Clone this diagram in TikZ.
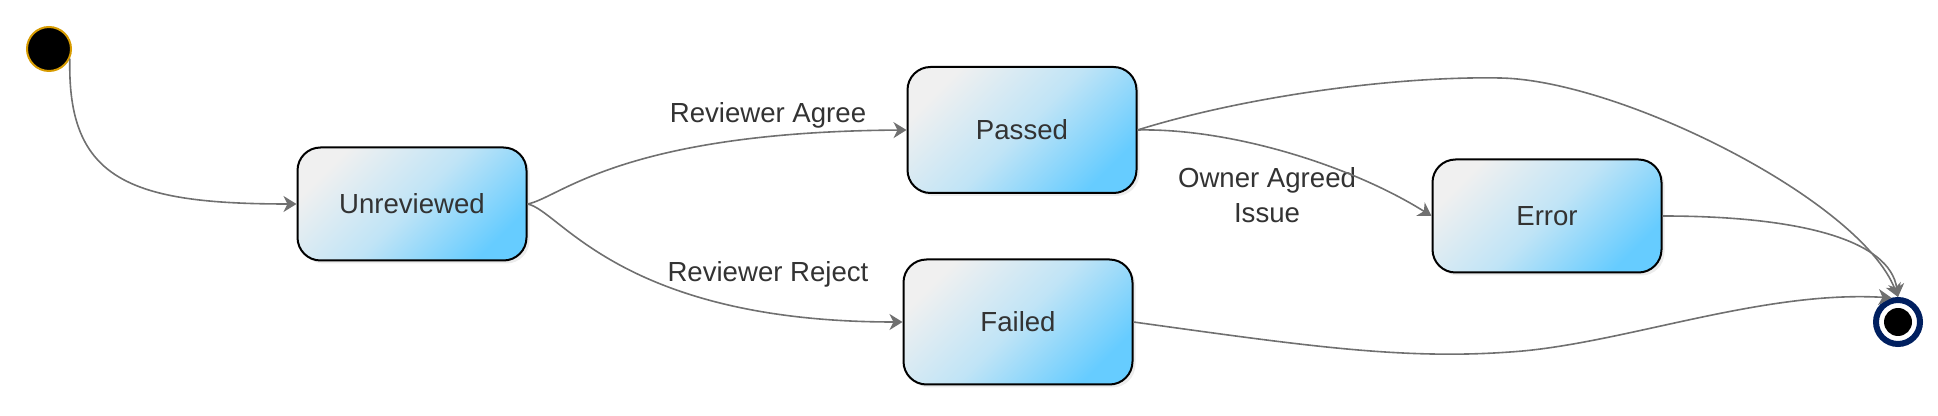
\documentclass[tikz,border=0pt]{standalone}
\usepackage{fontspec}
\setmainfont{Liberation Sans}
\usetikzlibrary{arrows.meta,shadows}
\definecolor{edgegray}{RGB}{112,112,112}
\definecolor{boxgray}{RGB}{240,240,240}
\definecolor{boxmid}{RGB}{192,228,246}
\definecolor{boxblue}{RGB}{102,204,255}
\definecolor{endnavy}{RGB}{0,31,95}
\definecolor{startorange}{RGB}{215,155,0}
\definecolor{txt}{RGB}{51,51,51}

\begin{document}
\begin{tikzpicture}[x=0.5pt,y=0.5pt,>={Stealth[length=6.5pt,width=8pt,inset=2pt]},every node/.style={font=\fontsize{13.8}{17.5}\selectfont,text=txt}]
\tikzstyle{st}=[draw=black,line width=1pt,rounded corners=11.5pt,top color=boxgray,bottom color=boxblue,middle color=boxmid,shading angle=45,drop shadow={shadow xshift=1.5pt,shadow yshift=-1.5pt,opacity=0.15},minimum width=114.5pt,minimum height=56.5pt,align=center]
\tikzstyle{tr}=[->,draw=edgegray,line width=0.8pt]
\useasboundingbox (0,0) rectangle (1938,-416);

\node[circle,fill=black,draw=startorange,line width=1pt,minimum size=22pt,inner sep=0pt] (start) at (49,-49) {};
\node[st] (unrev) at (412,-204) {Unreviewed};
\node[st,minimum height=63pt] (passed) at (1022,-130) {Passed};
\node[st] (error) at (1547,-216) {Error};
\node[st,minimum height=62.5pt] (failed) at (1018,-322) {Failed};
\node[circle,draw=endnavy,line width=3pt,minimum size=22pt,inner sep=0pt] (end) at (1898,-322) {};
\node[circle,fill=black,minimum size=14pt,inner sep=0pt] (enddot) at (end) {};

\node (lagree) at (768,-115) {Reviewer Agree};
\node (lreject) at (768,-274) {Reviewer Reject};
\node[align=center] (lowner) at (1267,-195) {Owner Agreed\\Issue};

\draw[tr] (start.-25) .. controls (67,-180) and (130,-204) .. (unrev.west);
\draw[tr] (unrev.east) .. controls (560,-198) and (620,-132) .. (passed.west);
\draw[tr] (unrev.east) .. controls (560,-210) and (620,-322) .. (failed.west);
\draw[tr] (passed.east) .. controls (1230,-128) and (1350,-165) .. (error.west);
\draw[tr] (passed.east) .. controls (1250,-95) and (1400,-76) .. (1500,-78) .. controls (1620,-80) and (1860,-200) .. (end.north);
\draw[tr] (error.east) .. controls (1800,-216) and (1890,-240) .. (end.north);
\draw[tr] (failed.east) .. controls (1300,-345) and (1400,-360) .. (1510,-352) .. controls (1620,-345) and (1760,-290) .. (end.105);
\end{tikzpicture}
\end{document}
